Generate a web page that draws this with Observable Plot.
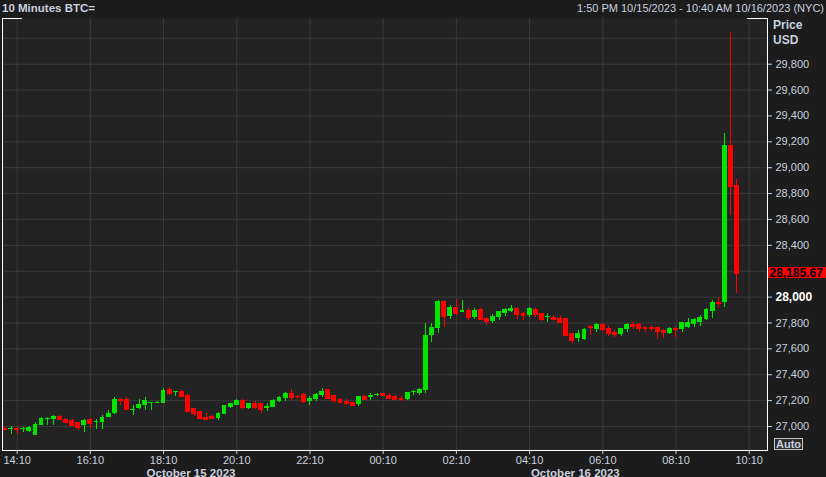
<!DOCTYPE html>
<html><head><meta charset="utf-8">
<script src="https://cdn.jsdelivr.net/npm/d3@7"></script>
<script src="https://cdn.jsdelivr.net/npm/@observablehq/plot@0.6"></script>
<style>
html,body{margin:0;padding:0;background:#1c1c1c;width:826px;height:477px;overflow:hidden;}
#header{position:relative;height:17px;font-family:"Liberation Sans",Arial,sans-serif;color:#c9d1de;}
#title{position:absolute;left:2px;top:0;line-height:17px;font-size:11.5px;font-weight:bold;}
#range{position:absolute;right:2px;top:0;line-height:17px;font-size:11px;}
#chart svg{display:block;}
</style></head><body>
<div id="header"><span id="title">10 Minutes BTC=</span><span id="range">1:50 PM 10/15/2023 - 10:40 AM 10/16/2023 (NYC)</span></div>
<div id="chart"></div>
<script>
// 10-minute candles starting 13:50 on Oct 15 2023
const startTime = "2023-10-15T13:50:00Z";
const stepMinutes = 10;
const openP  = [26985,26978,26985,26975,26962,26932,27008,27052,27054,27080,27057,27046,27034,27005,27054,27028,27028,27072,27098,27208,
                27209,27126,27136,27162,27175,27177,27180,27286,27262,27268,27240,27142,27119,27072,27080,27060,27095,27144,27162,27201,
                27142,27175,27175,27142,27149,27195,27214,27253,27235,27245,27196,27209,27240,27286,27240,27206,27196,27183,27170,27235,
                27222,27240,27253,27240,27232,27219,27209,27260,27255,27278,27704,27760,27969,27853,27923,27884,27897,27840,27905,27833,
                27815,27846,27871,27889,27915,27871,27858,27905,27871,27840,27846,27838,27833,27717,27678,27673,27776,27750,27786,27755,
                27730,27709,27750,27786,27786,27768,27768,27763,27742,27717,27760,27750,27768,27789,27807,27828,27892,27962,27962,29173,
                28859];
const highP  = [26998,27000,26995,26990,26998,27034,27072,27072,27085,27085,27064,27054,27034,27054,27060,27052,27085,27124,27227,27214,
                27227,27162,27206,27222,27188,27192,27291,27304,27271,27281,27248,27142,27119,27098,27085,27106,27165,27180,27206,27206,
                27180,27193,27175,27180,27206,27235,27260,27286,27240,27255,27232,27253,27294,27286,27240,27214,27209,27186,27235,27240,
                27253,27253,27258,27255,27240,27235,27263,27278,27296,27794,27794,27974,27974,27936,27982,27974,27910,27910,27910,27840,
                27866,27889,27910,27936,27923,27879,27923,27915,27871,27871,27858,27851,27838,27717,27742,27755,27781,27794,27794,27773,
                27742,27760,27794,27802,27794,27776,27781,27763,27750,27768,27768,27802,27833,27833,27858,27910,27974,28000,29264,30042,
                28910];
const lowP   = [26965,26936,26936,26956,26956,26930,27008,27008,27008,27046,27026,27000,26969,26956,26987,26977,26977,27067,27093,27162,
                27129,27085,27129,27124,27124,27175,27175,27243,27235,27230,27111,27080,27064,27046,27054,27046,27093,27140,27160,27131,
                27131,27131,27103,27119,27145,27188,27196,27201,27206,27180,27162,27196,27227,27214,27175,27175,27162,27160,27155,27206,
                27201,27235,27235,27206,27201,27196,27201,27242,27240,27253,27652,27722,27768,27825,27858,27879,27820,27825,27825,27781,
                27794,27820,27851,27884,27828,27820,27840,27846,27815,27807,27820,27794,27704,27639,27652,27665,27704,27730,27737,27699,
                27691,27699,27730,27748,27730,27724,27737,27670,27683,27709,27691,27730,27760,27763,27776,27820,27838,27910,27923,28632,
                28026];
const closeP = [26978,26985,26977,26982,26990,27015,27064,27064,27080,27054,27034,27008,26995,27046,27021,27041,27072,27103,27209,27198,
                27131,27134,27170,27201,27183,27188,27278,27258,27270,27235,27119,27103,27064,27054,27060,27098,27160,27175,27201,27144,
                27175,27149,27131,27152,27201,27227,27253,27222,27228,27196,27219,27247,27273,27219,27201,27183,27175,27162,27232,27209,
                27242,27250,27240,27214,27209,27209,27263,27268,27286,27704,27768,27969,27851,27923,27871,27897,27840,27897,27828,27815,
                27853,27889,27905,27915,27864,27858,27910,27864,27828,27848,27828,27807,27704,27665,27717,27750,27763,27786,27750,27717,
                27712,27760,27789,27776,27760,27755,27755,27737,27730,27760,27750,27802,27807,27828,27846,27905,27962,27949,29173,28851,
                28185.67];
const xTickLabels = ["14:10","16:10","18:10","20:10","22:10","00:10","02:10","04:10","06:10","08:10","10:10"];
// 28,200 sits under the last-price tag, 30,000 under the axis title
const yTickValues = [27000,27200,27400,27600,27800,28000,28400,28600,28800,29000,29200,29400,29600,29800];
const yGridValues = [27000,27200,27400,27600,27800,28000,28200,28400,28600,28800,29000,29200,29400,29600,29800,30000];
const dayLabels = ["October 15 2023", "October 16 2023"];
const dayLabelTimes = ["2023-10-15T18:55:00Z", "2023-10-16T05:25:00Z"];
const xDomain = ["2023-10-15T13:46:00Z", "2023-10-16T10:40:00Z"];
const yDomain = [26814.5, 30153];

const GREEN = "#00e400", RED = "#ff0000", TXT = "#c9d1de", GRID = "#3a3a3a";
const t0 = new Date(startTime).getTime();
const data = openP.map((o, i) => ({t: new Date(t0 + i * stepMinutes * 60000), o, h: highP[i], l: lowP[i], c: closeP[i]}));
const col = d => d.c >= d.o ? GREEN : RED;
const half = 4 * 60000;
const xTicks = xTickLabels.map(s => {
  const [hh, mm] = s.split(":").map(Number);
  return new Date(Date.UTC(2023, 9, hh >= 13 ? 15 : 16, hh, mm));
});

const chart = Plot.plot({
  width: 826, height: 460,
  marginTop: 1, marginBottom: 27, marginLeft: 2, marginRight: 59,
  style: {background: "#1c1c1c", color: TXT, fontFamily: "'Liberation Sans', Arial, sans-serif", fontSize: "11px"},
  x: {type: "utc", domain: xDomain.map(s => new Date(s)), label: null, axis: null},
  y: {domain: yDomain, label: null, axis: null},
  color: {type: "identity"},
  marks: [
    Plot.frame({fill: "#232323", stroke: null}),
    Plot.gridY(yGridValues, {stroke: GRID, strokeOpacity: 1}),
    Plot.gridX(xTicks, {stroke: GRID, strokeOpacity: 1}),
    Plot.ruleX(data, {x: "t", y1: "l", y2: "h", stroke: col, shapeRendering: "crispEdges"}),
    Plot.rect(data, {x1: d => new Date(+d.t - half), x2: d => new Date(+d.t + half), y1: "o", y2: "c", fill: col, shapeRendering: "crispEdges"}),
    Plot.ruleY(data, {x1: d => new Date(+d.t - half), x2: d => new Date(+d.t + half), y: "c", stroke: col, shapeRendering: "crispEdges"}),
    Plot.axisX({ticks: xTicks, tickFormat: d3.utcFormat("%H:%M"), tickSize: 4, tickPadding: 2, fontSize: 11, label: null}),
    Plot.axisY({anchor: "right", ticks: yTickValues, tickFormat: d3.format(","), tickSize: 4, tickPadding: 4, fontSize: 11, label: null}),
    Plot.text(dayLabels, {x: (d, i) => new Date(dayLabelTimes[i]), frameAnchor: "bottom", dy: 26, fontWeight: "bold", fontSize: 11.5, fill: TXT}),
    Plot.frame({anchor: "left", stroke: "#ffffff"}),
    Plot.frame({anchor: "right", stroke: "#ffffff"}),
    Plot.frame({anchor: "bottom", stroke: "#ffffff"})
  ]
});
document.getElementById("chart").appendChild(chart);

const svg = d3.select(chart);
svg.selectAll("text").filter(function() { return this.textContent === "28,000"; })
  .attr("font-weight", "bold").attr("fill", "#ffffff").attr("font-size", 12);

const xs = chart.scale("x"), ys = chart.scale("y");
const [xr0, xr1] = xs.range;
const frameTop = 1;
// top corner marks of the frame
svg.append("line").attr("x1", xr0).attr("x2", xr0 + 20).attr("y1", frameTop + 0.5).attr("y2", frameTop + 0.5).attr("stroke", "#fff");
svg.append("line").attr("x1", xr1 - 20).attr("x2", xr1).attr("y1", frameTop + 0.5).attr("y2", frameTop + 0.5).attr("stroke", "#fff");

// last price tag
const lastY = ys.apply(closeP[closeP.length - 1]);
svg.append("rect").attr("x", xr1 + 1).attr("y", lastY - 5.5).attr("width", 826 - xr1 - 1).attr("height", 11).attr("fill", RED);
svg.append("text").attr("x", xr1 + 2.5).attr("y", lastY).attr("dy", "0.36em").attr("text-anchor", "start")
  .attr("font-size", 12).attr("font-weight", "bold").attr("fill", "#000")
  .text(d3.format(",.2f")(closeP[closeP.length - 1]));

// axis title
svg.append("text").attr("x", xr1 + 6).attr("y", 12).attr("text-anchor", "start").attr("font-size", 12).attr("font-weight", "bold").attr("fill", TXT).text("Price");
svg.append("text").attr("x", xr1 + 6).attr("y", 27).attr("text-anchor", "start").attr("font-size", 12).attr("font-weight", "bold").attr("fill", TXT).text("USD");

// Auto button
svg.append("rect").attr("x", xr1 + 7.5).attr("y", 421.5).attr("width", 28).attr("height", 11).attr("fill", "#2c2c2c").attr("stroke", "#bfc6d0");
svg.append("text").attr("x", xr1 + 21.5).attr("y", 431).attr("text-anchor", "middle").attr("font-size", 11).attr("font-weight", "bold").attr("fill", TXT).text("Auto");
</script>
</body></html>
